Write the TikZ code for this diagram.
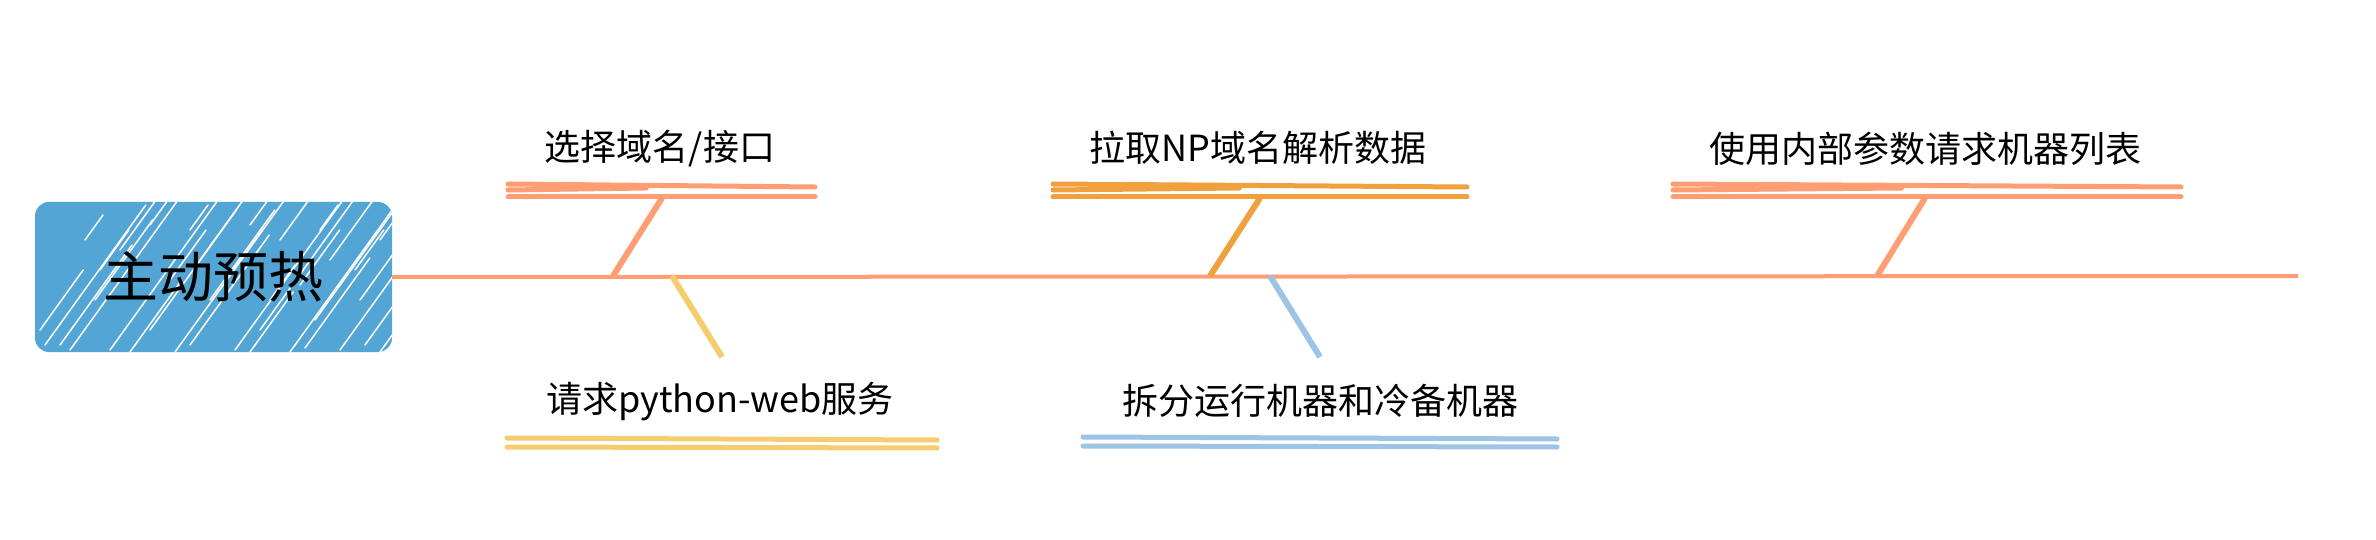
\documentclass[tikz,border=0pt]{standalone}
\usepackage{fontspec}
\setmainfont{Noto Sans CJK SC}
\definecolor{salmon}{RGB}{255,157,115}
\definecolor{dorange}{RGB}{240,160,60}
\definecolor{myyellow}{RGB}{245,205,110}
\definecolor{lblue}{RGB}{157,195,229}
\definecolor{boxblue}{RGB}{82,165,213}
\tikzset{
  rootbox/.style={fill=boxblue, rounded corners=14pt, minimum width=357pt, minimum height=150pt, inner sep=0pt},
  roottxt/.style={font=\fontsize{55}{60}\selectfont, text=black, inner sep=0pt},
  lbl/.style={font=\fontsize{36}{40}\selectfont, text=black, inner sep=0pt, anchor=center},
  spine/.style={draw=salmon, line width=4pt},
  branch/.style={line width=6pt, line cap=butt},
  uline/.style={line width=5pt, line cap=round},
  hatch/.style={draw=white, line width=1.5pt, line cap=round}
}
\begin{document}
\begin{tikzpicture}[x=1pt,y=-1pt]
\useasboundingbox (0,0) rectangle (2376,540);
\fill[white] (0,0) rectangle (2376,540);

% root box
\node[rootbox] (root) at (213.5,277) {};
\begin{scope}
  \clip[rounded corners=14pt] (35,202) rectangle (392,352);
  \foreach \x/\y/\l in {40/330/60, 45/345/140, 70/350/190, 95/300/80, 110/350/230, 150/330/120,
      175/352/260, 210/300/90, 235/350/200, 260/330/160, 290/352/240, 315/320/120, 340/350/190,
      360/300/80, 380/352/170, 400/330/150, 420/352/200, 440/300/100, 120/250/50, 200/260/60,
      280/240/40, 330/260/60, 150/225/30, 380/240/50, 250/225/30,
      60/345/100, 130/352/70, 190/345/110, 250/352/60, 305/348/90, 365/345/140, 395/352/90,
      100/270/40, 170/280/50, 230/275/45, 300/285/55, 355/270/40, 410/290/60, 270/300/35,
      85/240/25, 320/230/25, 190/230/25, 400/260/40}
    \draw[hatch] (\x,\y) -- ++(0.72*\l,-\l);
\end{scope}
\node[roottxt] (roottext) at (213.5,277) {主动预热};

% spine
\coordinate (spineend) at (2298,276);
\draw[spine] (root.east) -- (spineend);

% branch coordinates on spine
\coordinate (s1) at (613,276);
\coordinate (s2) at (672,276);
\coordinate (s3) at (1210,276);
\coordinate (s4) at (1270,276);
\coordinate (s5) at (1877,276);
\coordinate (t1) at (662,198);
\coordinate (t2) at (722,357);
\coordinate (t3) at (1260,198);
\coordinate (t4) at (1320,357);
\coordinate (t5) at (1925,198);

% labels
\node[lbl] (l1) at (660,149) {选择域名/接口};
\node[lbl] (l2) at (720,402) {请求python-web服务};
\node[lbl] (l3) at (1258,148) {拉取NP域名解析数据};
\node[lbl] (l4) at (1320,401) {拆分运行机器和冷备机器};
\node[lbl] (l5) at (1925,149) {使用内部参数请求机器列表};

% underlines top
\foreach \a/\b/\c in {508/815/salmon, 1053/1467/dorange, 1673/2181/salmon}{
  \draw[uline, draw=\c] (\a,184) -- (\b,187);
  \draw[uline, draw=\c] (\a,190) -- ({\a+0.45*(\b-\a)},188);
  \draw[uline, draw=\c] (\a,197) -- (\b,197);
}
% underlines bottom
\foreach \a/\b/\c/\y in {507/937/myyellow/438, 1083/1557/lblue/437}{
  \draw[uline, draw=\c] (\a,\y) -- (\b,\y+2);
  \draw[uline, draw=\c] (\a,\y+9) -- (\b,\y+10);
}

% branches
\draw[branch, draw=salmon] (s1) -- (t1);
\draw[branch, draw=myyellow] (s2) -- (t2);
\draw[branch, draw=dorange] (s3) -- (t3);
\draw[branch, draw=lblue] (s4) -- (t4);
\draw[branch, draw=salmon] (s5) -- (t5);
\end{tikzpicture}
\end{document}
